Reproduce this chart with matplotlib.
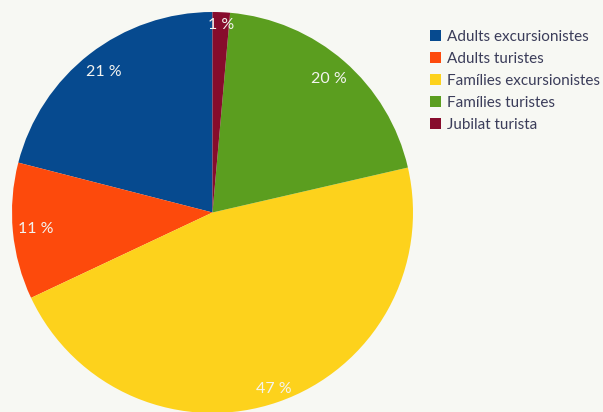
import matplotlib
matplotlib.use("Agg")
import matplotlib.pyplot as plt
from matplotlib.patches import Patch

categories = ["Adults excursionistes", "Adults turistes", "Famílies excursionistes",
              "Famílies turistes", "Jubilat turista"]
values = [21, 11, 46.6, 20, 1.4]
colors = ["#064a8f", "#fd4a0c", "#fdd21c", "#5b9e1f", "#870c2c"]
label_dist = [0.885, 0.885, 0.93, 0.885, 0.935]

bg = "#f7f8f3"
W, H = 603, 412
fig = plt.figure(figsize=(W / 100, H / 100), dpi=100, facecolor=bg)
plt.rcParams['font.family'] = ['Lato', 'DejaVu Sans']

ax = fig.add_axes([12 / W, -1 / H, 401 / W, 401 / H])
ax.set_facecolor(bg)
wedges, texts, autotexts = ax.pie(
    values, colors=colors, startangle=90, counterclock=True,
    autopct=lambda p: f"{p:.0f} %", pctdistance=1.0,
    wedgeprops=dict(linewidth=0),
    textprops=dict(color="#f4f4f0", fontsize=11.5))
for t, d in zip(autotexts, label_dist):
    x, y = t.get_position()
    t.set_position((x * d, y * d))
ax.set_xlim(-1, 1)
ax.set_ylim(-1, 1)
ax.set_aspect("equal")
ax.axis("off")

handles = [Patch(facecolor=c, edgecolor="none") for c in colors]
leg = fig.legend(handles, categories, loc="upper left",
                 bbox_to_anchor=(430 / W, 1 - 30 / H), frameon=False,
                 handlelength=0.7, handleheight=0.7, handletextpad=0.4,
                 labelspacing=0.52, fontsize=11, borderpad=0, borderaxespad=0)
for t in leg.get_texts():
    t.set_color("#3b3d5a")

fig.savefig("out.png", dpi=100, facecolor=bg)
